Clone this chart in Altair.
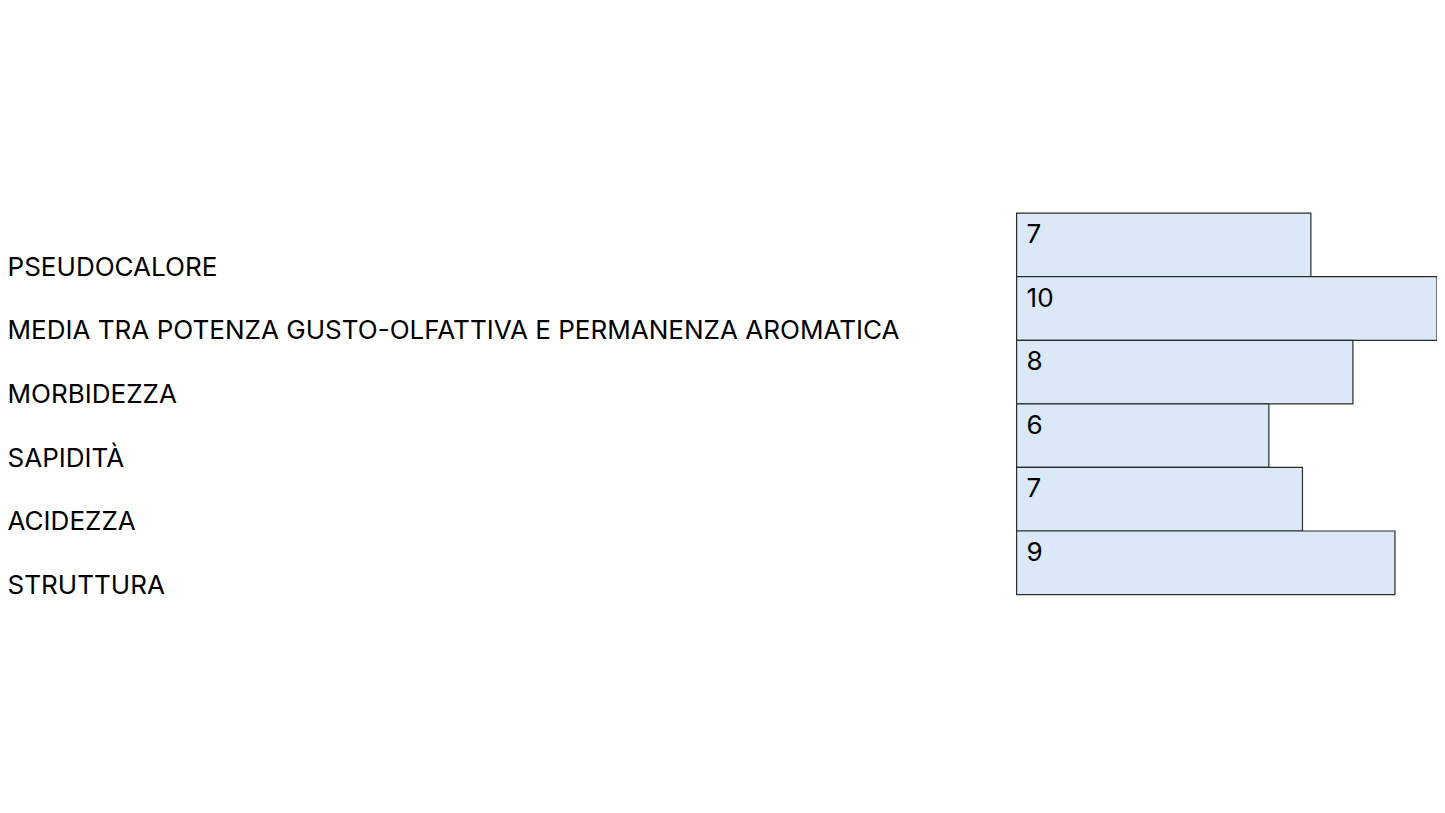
import altair as alt
import pandas as pd

categories = [
    "PSEUDOCALORE",
    "MEDIA TRA POTENZA GUSTO-OLFATTIVA E PERMANENZA AROMATICA",
    "MORBIDEZZA",
    "SAPIDITÀ",
    "ACIDEZZA",
    "STRUTTURA",
]
values = [7, 10, 8, 6, 6.8, 9]
value_labels = ["7", "10", "8", "6", "7", "9"]

df = pd.DataFrame({"cat": categories, "val": values, "lab": value_labels})

FONT = "Inter"

y_enc = alt.Y(
    "cat:N",
    sort=categories,
    scale=alt.Scale(paddingInner=0, paddingOuter=0),
    axis=alt.Axis(
        title=None,
        domain=False,
        ticks=False,
        labelAlign="left",
        labelBaseline="alphabetic",
        labelOffset=31,
        labelPadding=1011,
        labelLimit=1200,
        labelFont=FONT,
        labelFontSize=26.1,
        labelColor="#000000",
    ),
)

x_enc = alt.X("val:Q", scale=alt.Scale(domain=[0, 10], nice=False, zero=True), axis=None)

bars = alt.Chart(df).mark_bar(
    fill="#DAE8F7", stroke="#2b2b2b", strokeWidth=1.2, cornerRadius=0
).encode(y=y_enc, x=x_enc)

texts = alt.Chart(df).mark_text(
    align="left", baseline="alphabetic", dx=10, dy=-2, font=FONT, fontSize=26.1, color="#000000"
).encode(
    y=alt.Y("cat:N", sort=categories),
    x=alt.datum(0),
    text="lab:N",
)

chart = (
    alt.layer(bars, texts)
    .properties(
        width=421,
        height=382,
        padding={"left": 1010, "top": 205, "right": 0, "bottom": 10},
        autosize=alt.AutoSizeParams(type="none"),
        background="#ffffff",
    )
    .configure_view(stroke="transparent", strokeWidth=0)
)

chart.save("out.html", embed_options={"renderer": "svg", "actions": False})
